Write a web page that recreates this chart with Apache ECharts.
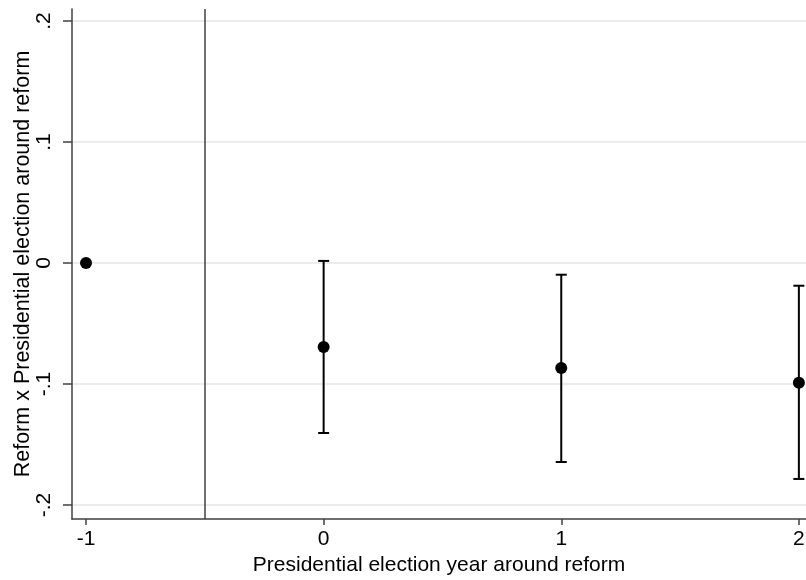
<!DOCTYPE html>
<html>
<head>
<meta charset="utf-8">
<script src="https://cdn.jsdelivr.net/npm/echarts@6/dist/echarts.min.js"></script>
<style>
  html, body { margin: 0; padding: 0; background: #fff; }
  #chart { width: 806px; height: 580px; }
</style>
</head>
<body>
<div id="chart"></div>
<script>
// Event-study estimates: election year relative to reform
const years = [-1, 0, 1, 2];
const estimates = [0, -0.0694, -0.0868, -0.0990];
const ciLower = [0, -0.1405, -0.1645, -0.1785];
const ciUpper = [0, 0.0017, -0.0097, -0.0188];

const xTicks = [-1, 0, 1, 2];
const yTicks = [-0.2, -0.1, 0, 0.1, 0.2];
const yTickLabels = ['-.2', '-.1', '0', '.1', '.2'];
const reformLine = -0.5;

const FONT = '"Liberation Sans", Arial, sans-serif';
const AXIS_COLOR = '#404040';

const points = years.map((y, i) => [y, estimates[i]]);
const bars = years
  .map((y, i) => [y, ciLower[i], ciUpper[i]])
  .filter(d => d[1] !== d[2]);

const chart = echarts.init(document.getElementById('chart'), null, { renderer: 'canvas' });

chart.setOption({
  animation: false,
  backgroundColor: '#fff',
  grid: { left: 72, right: 0, top: 9, bottom: 61, containLabel: false, outerBoundsMode: 'none' },
  xAxis: {
    type: 'value',
    min: -1.059,
    max: 2.03,
    name: 'Presidential election year around reform',
    nameLocation: 'middle',
    nameGap: 36,
    nameMoveOverlap: false,
    nameTextStyle: { fontFamily: FONT, fontSize: 21, color: '#000' },
    axisLine: { show: true, onZero: false, lineStyle: { color: AXIS_COLOR, width: 1.5 } },
    axisTick: { show: true, customValues: xTicks, length: 6, lineStyle: { color: AXIS_COLOR, width: 1.5 } },
    axisLabel: {
      customValues: xTicks,
      margin: 10,
      fontFamily: FONT, fontSize: 21, color: '#000',
      formatter: v => String(v)
    },
    splitLine: { show: false }
  },
  yAxis: {
    type: 'value',
    min: -0.2116,
    max: 0.2099,
    name: 'Reform x Presidential election around reform',
    nameLocation: 'middle',
    nameGap: 38,
    nameMoveOverlap: false,
    nameRotate: 90,
    nameTextStyle: { fontFamily: FONT, fontSize: 21.5, color: '#000' },
    axisLine: { show: true, onZero: false, lineStyle: { color: AXIS_COLOR, width: 1.5 } },
    axisTick: { show: true, customValues: yTicks, length: 9, lineStyle: { color: AXIS_COLOR, width: 1.5 } },
    axisLabel: {
      customValues: yTicks,
      rotate: 90,
      margin: 17,
      fontFamily: FONT, fontSize: 21, color: '#000',
      formatter: v => {
        const i = yTicks.findIndex(t => Math.abs(t - v) < 1e-9);
        return i >= 0 ? yTickLabels[i] : '';
      }
    },
    splitLine: { show: true, lineStyle: { color: '#e6e6e6', width: 1.5 } }
  },
  series: [
    {
      type: 'custom',
      name: 'ci',
      data: bars,
      z: 3,
      renderItem: (params, api) => {
        const x = api.value(0);
        const lo = api.coord([x, api.value(1)]);
        const hi = api.coord([x, api.value(2)]);
        const cap = 5.5;
        const style = { stroke: '#000', lineWidth: 2, fill: null };
        return {
          type: 'group',
          children: [
            { type: 'line', shape: { x1: lo[0], y1: lo[1], x2: hi[0], y2: hi[1] }, style },
            { type: 'line', shape: { x1: lo[0] - cap, y1: lo[1], x2: lo[0] + cap, y2: lo[1] }, style },
            { type: 'line', shape: { x1: hi[0] - cap, y1: hi[1], x2: hi[0] + cap, y2: hi[1] }, style }
          ]
        };
      }
    },
    {
      type: 'scatter',
      name: 'estimate',
      data: points,
      symbol: 'circle',
      symbolSize: 12,
      itemStyle: { color: '#000', opacity: 1 },
      z: 4,
      markLine: {
        silent: true,
        symbol: ['none', 'none'],
        label: { show: false },
        lineStyle: { color: AXIS_COLOR, width: 1.5, type: 'solid' },
        data: [{ xAxis: reformLine }]
      }
    }
  ]
});
</script>
</body>
</html>
